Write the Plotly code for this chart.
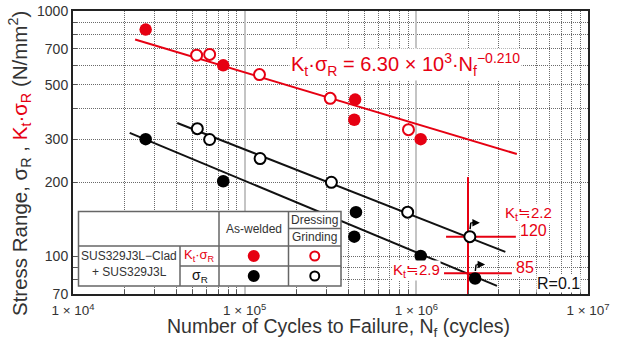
import numpy as np
import plotly.graph_objects as go

RED = "#e60012"
INK = "#333333"
FONT = "Liberation Sans, Arial, sans-serif"

# ---- test results (cycles to failure, stress range N/mm^2) ----
kt_aw_cycles = [2.65e4, 7.5e4, 4.4e5, 4.35e5, 1.06e6]
kt_aw_stress = [840, 600, 435, 360, 300]
kt_dg_cycles = [5.25e4, 6.25e4, 1.22e5, 3.15e5, 9.0e5]
kt_dg_stress = [660, 665, 550, 440, 328]
sr_aw_cycles = [2.65e4, 7.5e4, 4.45e5, 4.35e5, 1.06e6, 2.2e6]
sr_aw_stress = [300, 202, 151, 120, 100, 81]
sr_dg_cycles = [5.3e4, 6.25e4, 1.23e5, 3.2e5, 8.9e5, 2.05e6]
sr_dg_stress = [331, 299, 250, 200, 151, 120]

# ---- fitted S-N curves  S = C * N^m ----
fit_kt = dict(C=6.30e3, m=-0.210, n0=2.3e4, n1=3.85e6)
fit_sr_dg = dict(C=6478.0, m=-0.2753, n0=4.05e4, n1=3.3e6)
fit_sr_aw = dict(C=5851.0, m=-0.292, n0=2.14e4, n1=2.95e6)

# ---- 2x10^6 cycle reference levels ----
ref_cycles = 2e6
ref_top = 210
ref_levels = [120, 85]
ref_spans = [(1.49e6, 3.8e6), (1.45e6, 3.6e6)]
ref_level_text = ["120", "85"]
ref_kt_text = ["K<sub>t</sub>≒2.2", "K<sub>t</sub>≒2.9"]

# ---- axes ----
x_major = [1e4, 1e5, 1e6, 1e7]
x_major_text = ["1 × 10<sup>4</sup>", "1 × 10<sup>5</sup>", "1 × 10<sup>6</sup>", "1 × 10<sup>7</sup>"]
x_minor = [k * 10 ** e for e in (4, 5, 6) for k in range(2, 10)]
y_major = [70, 100, 200, 300, 500, 700, 1000]
y_major_text = [str(v) for v in y_major]
y_minor = [80, 90, 100, 200, 300, 400, 500, 600, 700, 800, 900]

W, H = 625, 340
ML, MR, MT, MB = 73, 37, 11, 46
PW, PH = W - ML - MR, H - MT - MB


def px(x):
    return (x - ML) / PW


def py(y):
    return (H - MB - y) / PH


fig = go.Figure()


def fit_curve(f):
    n = np.geomspace(f["n0"], f["n1"], 30)
    return n, f["C"] * n ** f["m"]


for f, col in [(fit_kt, RED), (fit_sr_dg, "#111111"), (fit_sr_aw, "#111111")]:
    n, s = fit_curve(f)
    fig.add_trace(go.Scatter(x=n, y=s, mode="lines", line=dict(color=col, width=2),
                             hoverinfo="skip", showlegend=False))

# reference crosshair at 2e6 cycles
fig.add_trace(go.Scatter(x=[ref_cycles, ref_cycles], y=[ref_top, 70], mode="lines",
                         line=dict(color=RED, width=2), showlegend=False))
for lvl, (a, b) in zip(ref_levels, ref_spans):
    fig.add_trace(go.Scatter(x=[a, b], y=[lvl, lvl], mode="lines",
                             line=dict(color=RED, width=2), showlegend=False))

# data points
fig.add_trace(go.Scatter(x=kt_aw_cycles, y=kt_aw_stress, mode="markers",
                         marker=dict(color=RED, size=12.5), showlegend=False))
fig.add_trace(go.Scatter(x=kt_dg_cycles, y=kt_dg_stress, mode="markers",
                         marker=dict(color="white", size=11, line=dict(color=RED, width=2)),
                         showlegend=False))
fig.add_trace(go.Scatter(x=sr_aw_cycles, y=sr_aw_stress, mode="markers",
                         marker=dict(color="black", size=12.5), showlegend=False))
fig.add_trace(go.Scatter(x=sr_dg_cycles, y=sr_dg_stress, mode="markers",
                         marker=dict(color="white", size=11, line=dict(color="black", width=2)),
                         showlegend=False))

shapes = []
annos = []

# solid line at 100 N/mm^2
shapes.append(dict(type="line", xref="paper", yref="y", x0=0, x1=1, y0=2, y1=2,
                   line=dict(color="#9a9a9a", width=1.5), layer="between"))

# run-out arrows on the last specimens: short stem, then a right-pointing head
for n, s in [(sr_dg_cycles[-1], sr_dg_stress[-1]), (sr_aw_cycles[-1], sr_aw_stress[-1])]:
    lx, ly = np.log10(n), np.log10(s)
    annos.append(dict(x=lx, y=ly, xref="x", yref="y", text="", showarrow=True,
                      arrowside="none", arrowwidth=1.5, arrowcolor="black",
                      ax=-1, ay=8, xshift=1, yshift=14, standoff=0, startstandoff=0))
    annos.append(dict(x=lx, y=ly, xref="x", yref="y", text="", showarrow=True,
                      arrowhead=2, arrowsize=1, arrowwidth=1.5, arrowcolor="black",
                      ax=-10, ay=0, xshift=10, yshift=14, standoff=0, startstandoff=0))

# legend table
tbl_line = dict(color="#666666", width=1.5)
L, R, T, B = 78.5, 341, 211.5, 286
HB, RD, C1, C2, C3, DG = 246, 266, 180, 219, 288.5, 228.5
shapes.append(dict(type="rect", xref="paper", yref="paper", x0=px(L), x1=px(R), y0=py(B), y1=py(T),
                   fillcolor="white", line=tbl_line, layer="above"))
for x0, y0, x1, y1 in [(L, HB, R, HB), (C1, RD, R, RD), (C1, HB, C1, B), (C2, T, C2, B),
                       (C3, T, C3, B), (C3, DG, R, DG)]:
    shapes.append(dict(type="line", xref="paper", yref="paper", x0=px(x0), x1=px(x1),
                       y0=py(y0), y1=py(y1), line=tbl_line, layer="above"))


def dot(cx, cy, r, fill, edge):
    shapes.append(dict(type="circle", xref="paper", yref="paper",
                       x0=px(cx - r), x1=px(cx + r), y0=py(cy + r), y1=py(cy - r),
                       fillcolor=fill, line=dict(color=edge, width=2), layer="above"))


dot((C2 + C3) / 2, (HB + RD) / 2, 5, RED, RED)
dot((C2 + C3) / 2, (RD + B) / 2, 5, "black", "black")
dot((C3 + R) / 2, (HB + RD) / 2, 4.5, "white", RED)
dot((C3 + R) / 2, (RD + B) / 2, 4.5, "white", "black")


def text(x, y, s, size, color=INK, **kw):
    d = dict(x=px(x), y=py(y), xref="paper", yref="paper", text=s, showarrow=False,
             xanchor="center", yanchor="middle",
             font=dict(family=FONT, size=size, color=color))
    d.update(kw)
    annos.append(d)


text((C2 + C3) / 2, (T + HB) / 2, "As-welded", 12)
text((C3 + R) / 2, (T + DG) / 2, "Dressing", 12)
text((C3 + R) / 2, (DG + HB) / 2, "Grinding", 12)
text((L + C1) / 2, 256, "SUS329J3L−Clad", 12)
text((L + C1) / 2, 272, "+ SUS329J3L", 12)
text((C1 + C2) / 2, (HB + RD) / 2, "K<sub>t</sub>·σ<sub>R</sub>", 13, RED)
text((C1 + C2) / 2, (RD + B) / 2, "σ<sub>R</sub>", 14, "#111111")

# curve equation
text(289, 64, "K<sub>t</sub>·σ<sub>R</sub> = 6.30 × 10<sup>3</sup>·N<sub>f</sub><sup>−0.210</sup>",
     20, RED, xanchor="left", bgcolor="white")

# reference labels
for lvl, (a, b), lt in zip(ref_levels, ref_spans, ref_level_text):
    annos.append(dict(x=np.log10(b), y=np.log10(lvl), xref="x", yref="y", text=lt,
                      showarrow=False, xanchor="left", yanchor="middle", xshift=3, yshift=6,
                      font=dict(family=FONT, size=16, color=RED), bgcolor="white",
                      borderpad=0))
text(528, 213, ref_kt_text[0], 15, RED, bgcolor="white", borderpad=0)
text(416, 270, ref_kt_text[1], 15, RED, bgcolor="white", borderpad=0)
text(558, 283, "R=0.1", 16, "#111111", bgcolor="white", borderpad=0)

# axis titles
text(19, 164,
     "Stress Range, σ<sub>R</sub> , <span style='color:%s'>K<sub>t</sub>·σ<sub>R</sub></span> (N/mm<sup>2</sup>)" % RED,
     20.5, INK, textangle=-90)
text(338, 327.5, "Number of Cycles to Failure, N<sub>f</sub> (cycles)", 19.5, INK)

axis_common = dict(type="log", showline=True, linecolor="#222222", linewidth=2, mirror=True,
                   automargin=False, tickfont=dict(family=FONT, size=14, color=INK),
                   zeroline=False)

fig.update_layout(
    width=W, height=H, margin=dict(l=ML, r=MR, t=MT, b=MB),
    paper_bgcolor="white", plot_bgcolor="white", showlegend=False,
    font=dict(family=FONT, color=INK),
    xaxis=dict(axis_common, range=[4, 7], tickmode="array", tickvals=x_major,
               ticktext=x_major_text, ticks="", showgrid=True, gridcolor="#c4c4c4", gridwidth=1.5,
               ticklabelstandoff=3, tickfont=dict(family=FONT, size=13.5, color=INK),
               minor=dict(tickmode="array", tickvals=x_minor, ticks="inside", ticklen=4,
                          tickcolor="#555555", showgrid=True, gridcolor="#6a6a6a",
                          griddash="1px,1px", gridwidth=1)),
    yaxis=dict(axis_common, range=[np.log10(70), 3], tickmode="array", tickvals=y_major,
               ticktext=y_major_text, ticks="", showgrid=False,
               minor=dict(tickmode="array", tickvals=y_minor, ticks="inside", ticklen=4,
                          tickcolor="#555555", showgrid=True, gridcolor="#6a6a6a",
                          griddash="1px,1px", gridwidth=1)),
    shapes=shapes, annotations=annos,
)

fig.write_html("out.html")
